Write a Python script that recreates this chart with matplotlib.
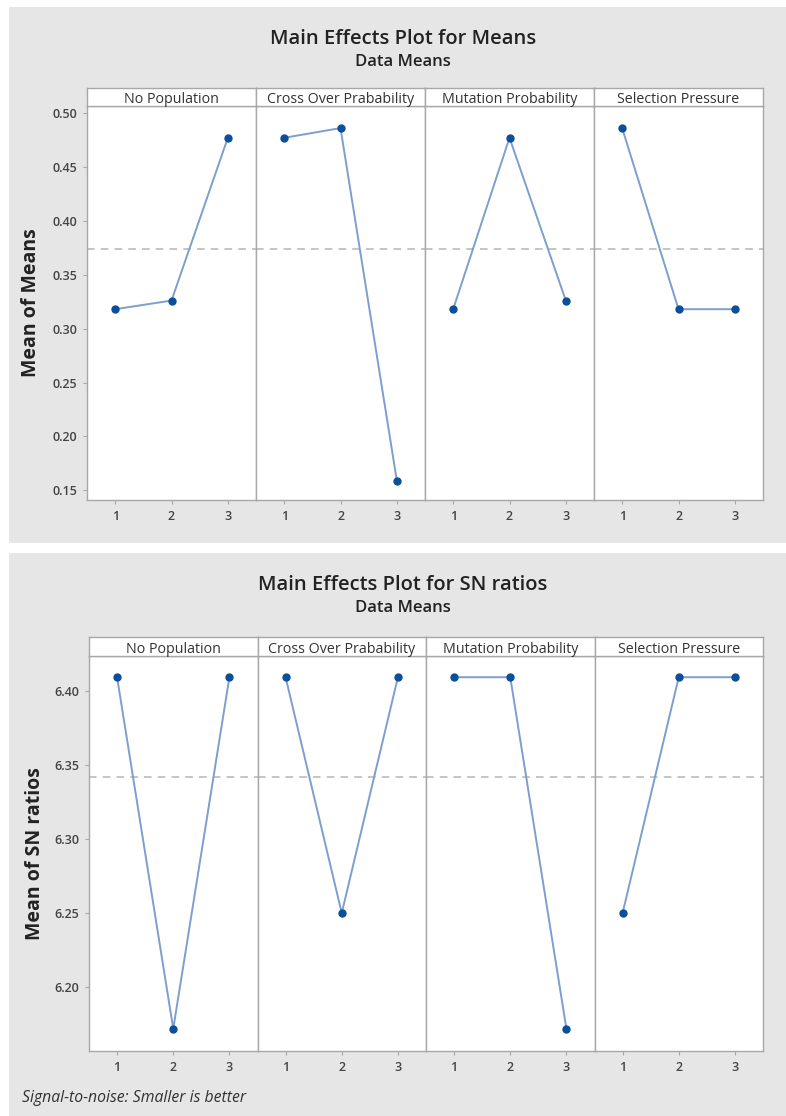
import numpy as np
import matplotlib
matplotlib.use("Agg")
import matplotlib.pyplot as plt
from matplotlib.patches import Rectangle

plt.rcParams['font.family'] = ['Open Sans', 'DejaVu Sans']

factors = ["No Population", "Cross Over Prabability", "Mutation Probability", "Selection Pressure"]
levels = [1, 2, 3]

means_vals = [
    [0.318, 0.326, 0.477],
    [0.477, 0.486, 0.159],
    [0.318, 0.477, 0.326],
    [0.486, 0.318, 0.318],
]
means_grand = 0.374
means_ticks = [0.15, 0.20, 0.25, 0.30, 0.35, 0.40, 0.45, 0.50]

sn_vals = [
    [6.409, 6.172, 6.409],
    [6.409, 6.250, 6.409],
    [6.409, 6.409, 6.172],
    [6.250, 6.409, 6.409],
]
sn_grand = 6.342
sn_ticks = [6.20, 6.25, 6.30, 6.35, 6.40]

W, H = 786, 1116
LINE = '#7d9fcc'
MARK = '#0b4f9a'
SPINE = '#a8a8a8'
TXT = '#333333'
BG = '#e6e6e6'

fig = plt.figure(figsize=(W / 100, H / 100), dpi=100)
fig.patch.set_facecolor('white')


def fx(px):
    return px / W


def fy(py):
    return 1 - py / H


def panel(top, bot, title, ylabel, vals, grand, yticks, ylim, plot_box, strip_box, ylab_x, foot=None):
    # gray background block behind the axes
    fig.patches.append(Rectangle((fx(9), fy(bot)), 1 - fx(9), fy(top) - fy(bot),
                                 transform=fig.transFigure, facecolor=BG, edgecolor='none', zorder=-10))
    x0, x1, y0, y1 = plot_box
    sy0, sy1 = strip_box
    tcy = top + 32
    fig.text(0.5 + fx(10), fy(tcy), title, ha='center', va='center', fontsize=14.5,
             fontweight='semibold', color='#222222')
    fig.text(0.5 + fx(10), fy(tcy + 23), "Data Means", ha='center', va='center', fontsize=12,
             fontweight='semibold', color='#222222')
    pw = (x1 - x0) / 4
    for i, name in enumerate(factors):
        left = x0 + i * pw
        ax = fig.add_axes([fx(left), fy(y1), fx(pw), fy(y0) - fy(y1)])
        ax.set_facecolor('white')
        ax.axhline(grand, color='#b5b5b5', lw=1.1, ls=(0, (5, 4)), zorder=1)
        ax.plot(levels, vals[i], color=LINE, lw=1.4, zorder=2)
        ax.plot(levels, vals[i], 'o', color=MARK, ms=5, zorder=3)
        ax.set_xlim(0.5, 3.5)
        ax.set_ylim(*ylim)
        ax.set_xticks(levels)
        ax.set_xticklabels([str(l) for l in levels], fontsize=9, fontweight='semibold')
        for s in ax.spines.values():
            s.set_color(SPINE)
            s.set_linewidth(1.0)
        ax.tick_params(axis='both', colors=SPINE, length=3, width=0.8, labelcolor='#444444', pad=4)
        if i == 0:
            ax.set_yticks(yticks)
            ax.set_yticklabels(["%.2f" % t for t in yticks], fontsize=9, fontweight='semibold')
        else:
            ax.set_yticks([])
        # strip on top
        sax = fig.add_axes([fx(left), fy(sy1), fx(pw), fy(sy0) - fy(sy1)])
        sax.set_facecolor('white')
        sax.set_xticks([])
        sax.set_yticks([])
        for s in sax.spines.values():
            s.set_color(SPINE)
            s.set_linewidth(1.0)
        sax.text(0.5, 0.45, name, ha='center', va='center_baseline', fontsize=10.3, color=TXT,
                 transform=sax.transAxes)
    fig.text(fx(ylab_x), fy((y0 + y1) / 2), ylabel, rotation=90, ha='center', va='center',
             fontsize=14, fontweight='bold', color='#222222')
    if foot:
        fig.text(fx(22), fy(bot - 18), foot, ha='left', va='center', fontsize=11.3, style='italic',
                 color='#333333')


panel(7, 543, "Main Effects Plot for Means", "Mean of Means", means_vals, means_grand,
      means_ticks, (0.141, 0.5065), (87, 763, 106, 500), (88, 106), 31)
panel(553, 1116, "Main Effects Plot for SN ratios", "Mean of SN ratios", sn_vals, sn_grand,
      sn_ticks, (6.157, 6.4233), (89, 763, 656, 1051), (637, 656), 35,
      foot="Signal-to-noise: Smaller is better")

fig.savefig("out.png", dpi=100, facecolor=fig.get_facecolor())
